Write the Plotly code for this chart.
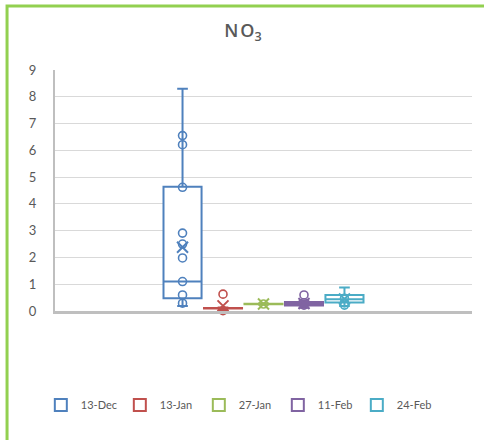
import plotly.graph_objects as go

# ---- data ----
series = ["13-Dec", "13-Jan", "27-Jan", "11-Feb", "24-Feb"]
colors = ["#4F81BD", "#C0504D", "#9BBB59", "#8064A2", "#4BACC6"]

q1 = [0.48, 0.09, 0.25, 0.21, 0.32]
median = [1.10, 0.10, 0.26, 0.27, 0.44]
q3 = [4.64, 0.11, 0.27, 0.34, 0.60]
lower = [0.19, 0.02, 0.23, 0.12, 0.19]
upper = [8.30, 0.13, 0.29, 0.38, 0.88]
means = [2.38, 0.19, 0.26, 0.28, 0.45]

points = [
    [6.55, 6.21, 4.62, 2.91, 2.50, 1.98, 1.10, 0.60, 0.29],
    [0.63, 0.01],
    [0.26],
    [0.60, 0.31, 0.22],
    [0.47, 0.30, 0.22],
]

y_ticks = list(range(0, 10))

fig = go.Figure()
for i, name in enumerate(series):
    c = colors[i]
    fig.add_trace(go.Box(
        name=name, x=[i], q1=[q1[i]], median=[median[i]], q3=[q3[i]],
        lowerfence=[lower[i]], upperfence=[upper[i]],
        width=0.94, whiskerwidth=0.28,
        line=dict(color=c, width=2), fillcolor="white",
        boxpoints=False, showlegend=True,
    ))
for i, name in enumerate(series):
    c = colors[i]
    fig.add_trace(go.Scatter(
        x=[i] * len(points[i]), y=points[i], mode="markers",
        marker=dict(symbol="circle-open", size=8, color=c, line=dict(color=c, width=1.6)),
        showlegend=False, cliponaxis=False, hoverinfo="y",
    ))
    fig.add_trace(go.Scatter(
        x=[i], y=[means[i]], mode="markers",
        marker=dict(symbol="x-thin-open", size=11, color=c, line=dict(color=c, width=2)),
        showlegend=False, cliponaxis=False, hoverinfo="y",
    ))

fig.update_layout(
    width=484, height=440,
    margin=dict(l=55, r=12, t=70, b=129, autoexpand=False),
    paper_bgcolor="white", plot_bgcolor="white",
    font=dict(family="Lato, Open Sans, sans-serif", color="#595959", size=12),
    title=dict(text="N\u200aO<sub>3</sub>", x=0.502, xanchor="center", y=0.93, yanchor="middle",
               font=dict(size=18, color="#595959", family="Open Sans, sans-serif", weight=600)),
    xaxis=dict(range=[-3.15, 7.15], showticklabels=False, showgrid=False, zeroline=False,
               showline=True, linecolor="#BFBFBF", linewidth=3, ticks="", automargin=False),
    yaxis=dict(range=[0, 9], tickvals=y_ticks, showgrid=True, gridcolor="#D9D9D9", gridwidth=1,
               zeroline=False, showline=True, linecolor="#BFBFBF", linewidth=2,
               ticks="outside", ticklen=14, tickcolor="rgba(0,0,0,0)", automargin=False,
               tickfont=dict(size=13, color="#595959")),
    legend=dict(orientation="h", x=-0.034, xanchor="left", y=-0.39, yanchor="middle",
                font=dict(size=11, color="#595959"), entrywidth=34, entrywidthmode="pixels",
                bgcolor="rgba(0,0,0,0)"),
    showlegend=True,
    shapes=[dict(type="path", xref="paper", yref="paper",
                 path="M -0.115 -0.6 L -0.115 1.266 L 1.2 1.266",
                 line=dict(color="#92D050", width=3))],
)

fig.write_html("out.html", config={"displayModeBar": False},
               post_script="document.body.style.margin='0';")
